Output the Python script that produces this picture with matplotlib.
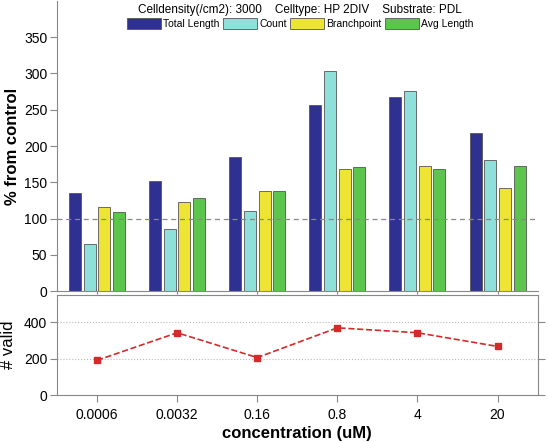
import numpy as np
import matplotlib.pyplot as plt

plt.rcParams['font.family'] = ['Liberation Sans', 'DejaVu Sans']

# data
concentrations = ['0.0006', '0.0032', '0.16', '0.8', '4', '20']
series_names = ['Total Length', 'Count', 'Branchpoint', 'Avg Length']
total_length = [135, 152, 185, 257, 268, 218]
count = [65, 86, 111, 304, 276, 181]
branchpoint = [116, 123, 138, 168, 173, 142]
avg_length = [109, 129, 138, 171, 169, 173]
n_valid = [191, 342, 206, 369, 342, 267]
colors = ['#2E3192', '#8EE0DA', '#EEE434', '#5CC64C']

fig = plt.figure(figsize=(5.48, 4.42), dpi=100)
ax1 = fig.add_axes([0.104, 0.341, 0.877, 0.657])
ax2 = fig.add_axes([0.104, 0.106, 0.877, 0.227])

x = np.arange(len(concentrations))
pitch = 0.183
width = 0.15
values = [total_length, count, branchpoint, avg_length]
for i, (vals, name, c) in enumerate(zip(values, series_names, colors)):
    ax1.bar(x + (i - 1.5) * pitch, vals, width, color=c, edgecolor='#555555',
            linewidth=0.6, label=name, zorder=2)

ax1.axhline(100, color='#888888', linestyle=(0, (4, 3)), linewidth=0.9, zorder=3)
ax1.set_xlim(-0.5, 5.5)
ax1.set_ylim(0, 400)
ax1.set_yticks(np.arange(0, 351, 50))
ax1.set_xticks(x)
ax1.set_xticklabels([])
ax1.set_ylabel('% from control', fontsize=12, fontweight='bold', labelpad=3)
for s in ['top', 'right']:
    ax1.spines[s].set_visible(False)
for s in ['left', 'bottom']:
    ax1.spines[s].set_color('#888888')
ax1.tick_params(axis='y', colors='#888888', labelcolor='black', labelsize=10,
                length=5, pad=2)
ax1.tick_params(axis='x', colors='#888888', length=2)

ax1.text(0.506, 0.99, 'Celldensity(/cm2): 3000    Celltype: HP 2DIV    Substrate: PDL',
         transform=ax1.transAxes, ha='center', va='top', fontsize=8.5)
ax1.legend(loc='upper center', bbox_to_anchor=(0.506, 0.957), ncol=4, frameon=False,
           fontsize=7.5, handlelength=3.3, handleheight=1.3, handletextpad=0.2,
           columnspacing=0.3, borderaxespad=0)

ax2.plot(x, n_valid, color='#D42A2A', linestyle='--', linewidth=1.2,
         marker='s', markersize=4.5, zorder=3)
ax2.set_xlim(-0.5, 5.5)
ax2.set_ylim(0, 550)
ax2.set_yticks([0, 200, 400])
ax2.set_xticks(x)
ax2.set_xticklabels(concentrations)
ax2.yaxis.grid(True, linestyle=':', color='#BBBBBB', linewidth=0.8)
ax2.set_ylabel('# valid', fontsize=12, labelpad=6)
ax2.set_xlabel('concentration (uM)', fontsize=12, fontweight='bold', labelpad=3)
for s in ax2.spines.values():
    s.set_color('#888888')
ax2.tick_params(colors='#888888', labelcolor='black', labelsize=10, length=5, pad=2)
ax2.tick_params(axis='x', pad=4)
ax2.tick_params(axis='y', right=True)

fig.savefig('out.png', dpi=100)
